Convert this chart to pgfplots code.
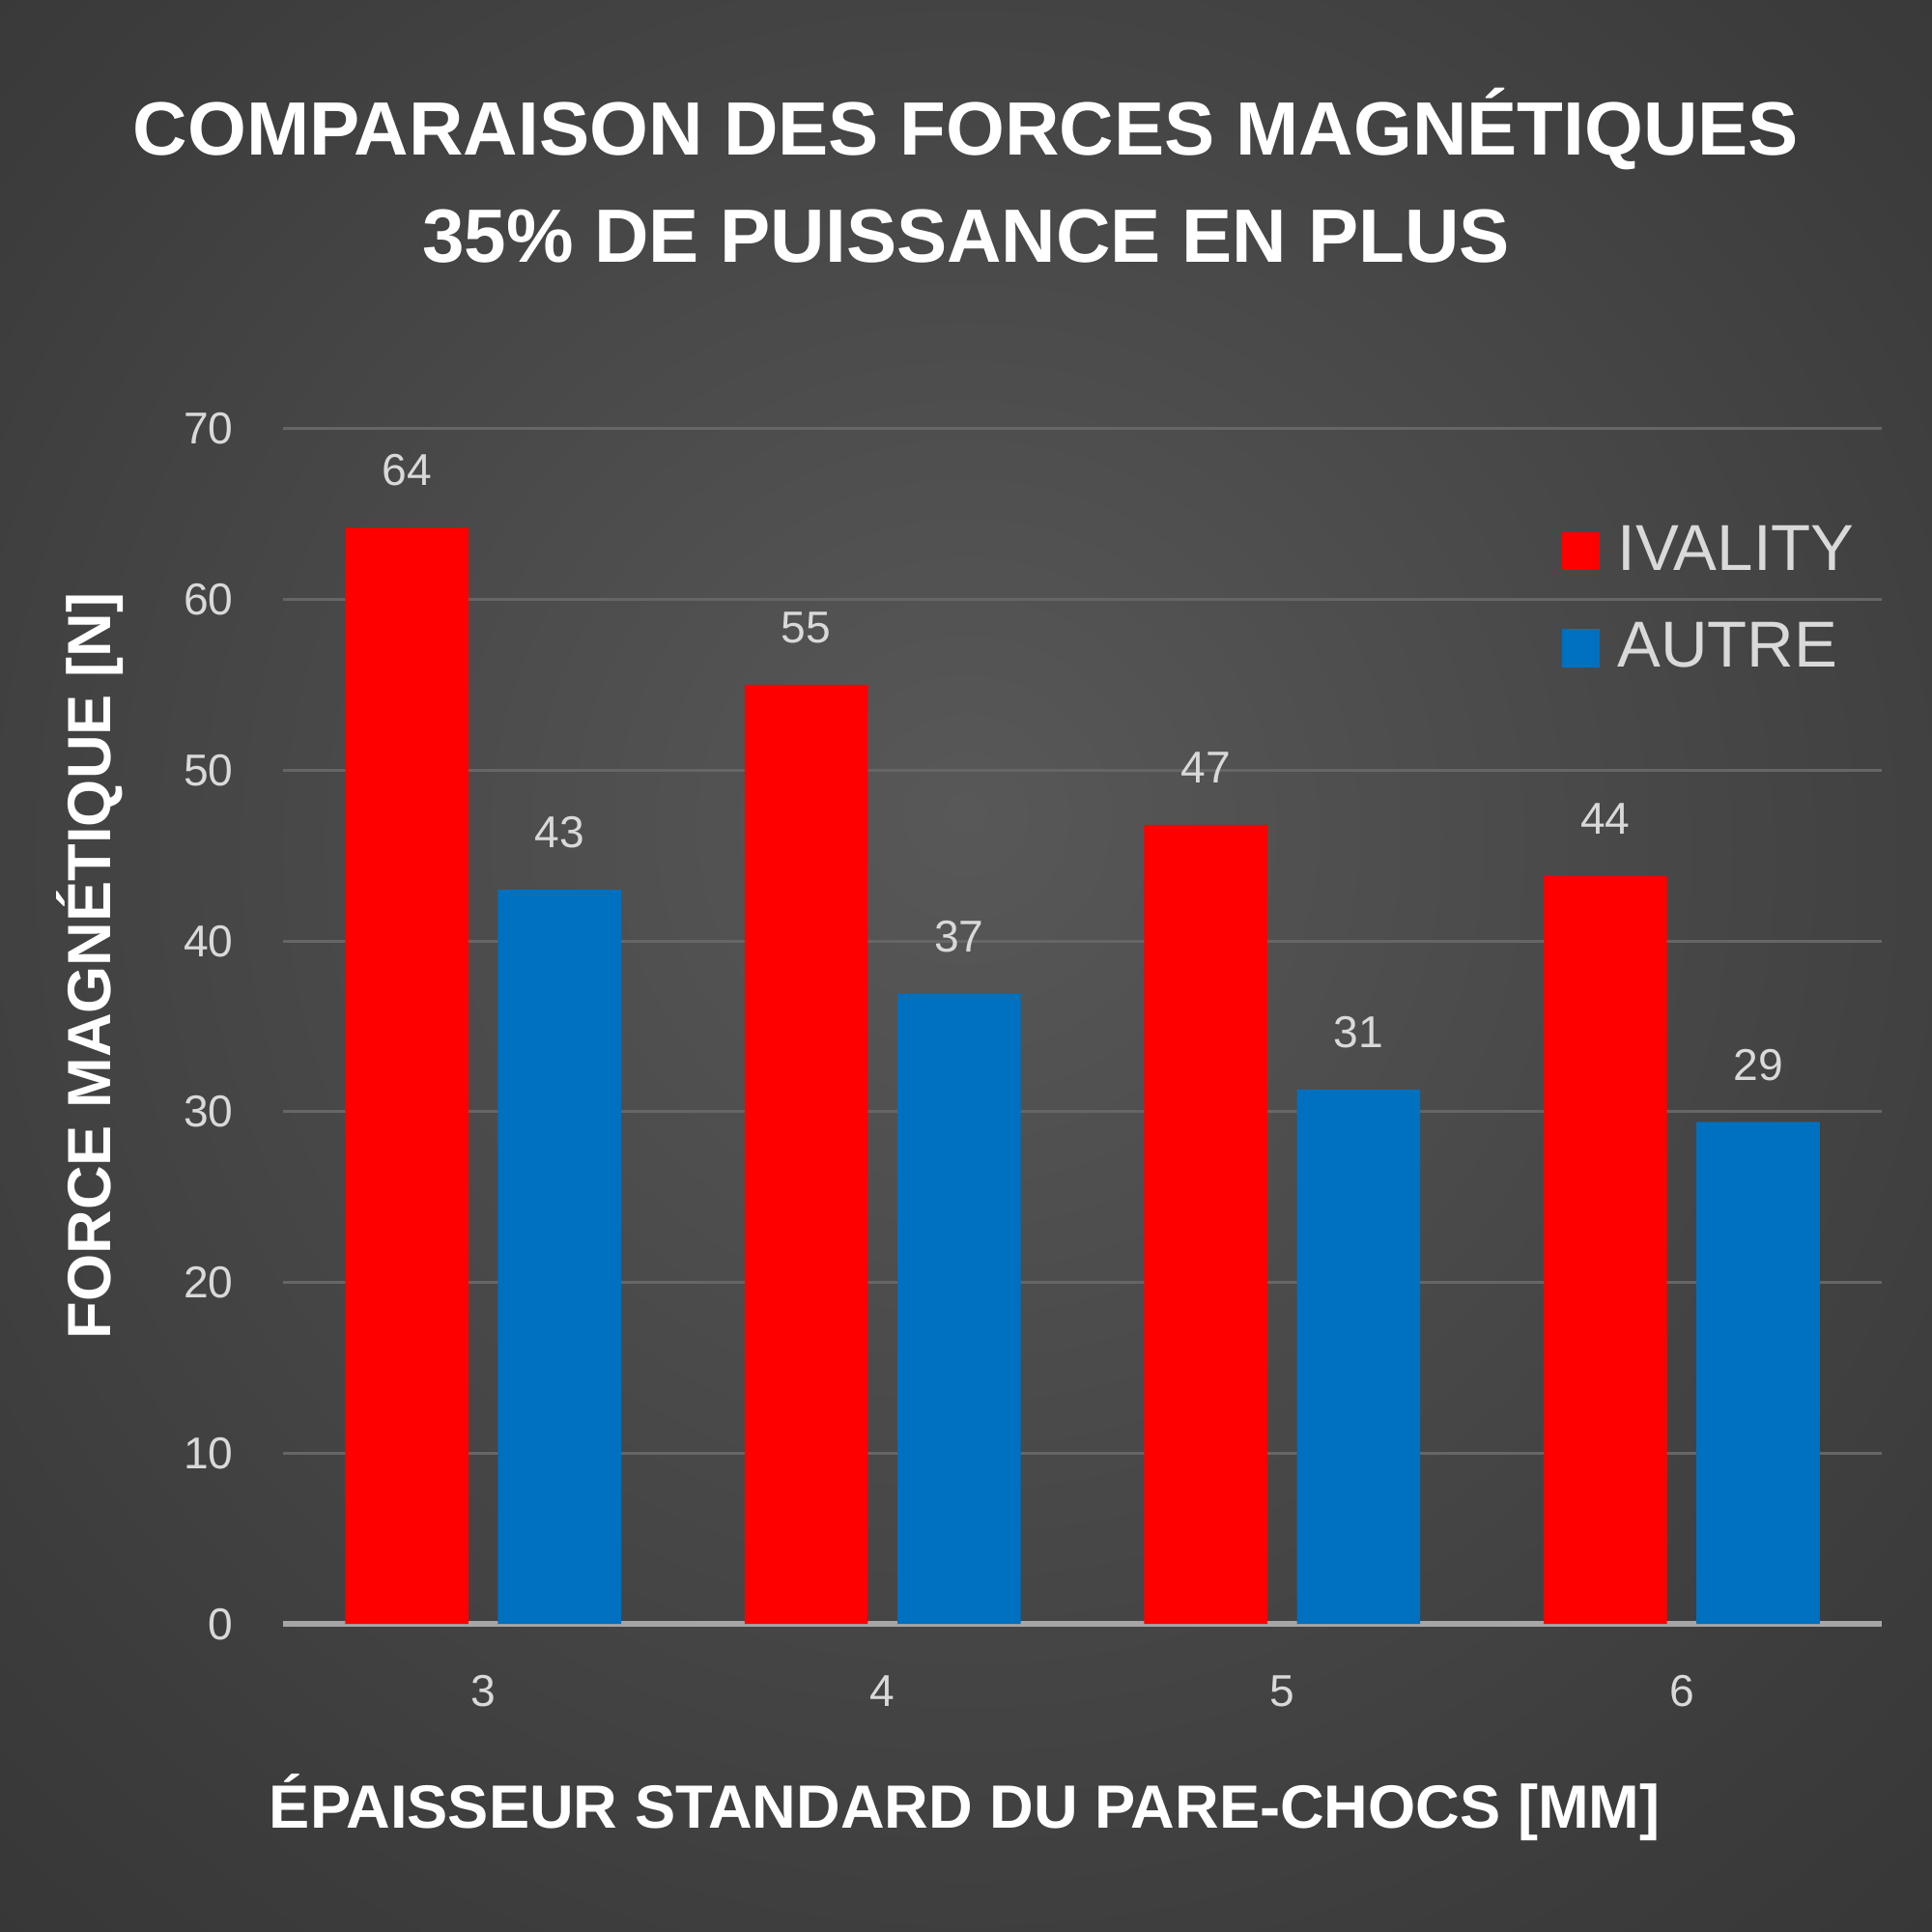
\documentclass[border=0pt]{standalone}
\usepackage{pgfplots}
\pgfplotsset{compat=1.18}
\usepackage{pgfplotstable}
\usepackage{fontspec}
\setmainfont{Liberation Sans}

\definecolor{ivred}{HTML}{FF0000}
\definecolor{autblue}{HTML}{0070C0}
\definecolor{ticktxt}{HTML}{D9D9D9}
\definecolor{gridc}{HTML}{666666}
\definecolor{axisc}{HTML}{A6A6A6}
\definecolor{bgin}{HTML}{585858}
\definecolor{bgmid}{HTML}{3C3C3C}
\definecolor{bgout}{HTML}{1E1E1E}

\pgfdeclareradialshading{bgshade}{\pgfpoint{0bp}{4bp}}{%
  color(0bp)=(bgin); color(30bp)=(bgmid); color(72bp)=(bgout)}

\pgfplotstableread{
x  y
3  64.2
4  55.0
5  46.8
6  43.8
}\ivality
\pgfplotstableread{
x  y
3  43.0
4  36.9
5  31.3
6  29.4
}\autre

\begin{document}
\begin{tikzpicture}
\shade[shading=bgshade] (0,0) rectangle (15.68,15.68);
\node[text=white, font=\fontsize{17.45}{20}\selectfont\bfseries] at (7.84,14.63)
  {COMPARAISON DES FORCES MAGNÉTIQUES};
\node[text=white, font=\fontsize{17.45}{20}\selectfont\bfseries] at (7.84,13.76)
  {35\% DE PUISSANCE EN PLUS};
\begin{axis}[
    at={(2.30cm,2.50cm)}, anchor=south west,
    scale only axis,
    width=12.97cm, height=9.70cm,
    ybar=0.24cm, bar width=1.0cm,
    xmin=2.5, xmax=6.5,
    ymin=0, ymax=70,
    xtick={3,4,5,6},
    ytick={0,10,...,70},
    major tick length=0pt,
    axis x line*=bottom, axis y line*=left,
    y axis line style={draw=none},
    x axis line style={color=axisc, line width=1.2pt, -},
    ymajorgrids,
    major grid style={color=gridc, line width=0.7pt},
    /pgf/number format/assume math mode=true,
    tick label style={text=ticktxt, font=\fontsize{10.3}{12}\selectfont, inner sep=0pt},
    yticklabel style={xshift=-0.40cm},
    xticklabel style={yshift=-0.41cm},
    nodes near coords,
    nodes near coords style={text=ticktxt, font=\fontsize{10.3}{12}\selectfont,
      anchor=south, inner sep=0pt, yshift=0.33cm,
      /pgf/number format/.cd, fixed, precision=0, assume math mode=true},
    xlabel={ÉPAISSEUR STANDARD DU PARE-CHOCS [MM]},
    ylabel={FORCE MAGNÉTIQUE [N]},
    xlabel style={at={(axis description cs:0.4264,-0.1536)}, anchor=center,
      text=white, font=\fontsize{14.1}{17}\selectfont\bfseries},
    ylabel style={at={(axis description cs:-0.121,0.5505)}, anchor=center, rotate=0,
      text=white, font=\fontsize{14.1}{17}\selectfont\bfseries},
    legend style={at={(axis description cs:0.7995,0.857)}, anchor=west,
      draw=none, fill=none, inner sep=0pt, row sep=0.37cm,
      text=ticktxt, font=\fontsize{15}{18}\selectfont,
      nodes={inner sep=0pt}},
    legend cell align=left,
    legend image code/.code={\fill (0cm,-0.155cm) rectangle (0.31cm,0.155cm);
      \path (0.31cm,0) -- (0.45cm,0);},
  ]
\addplot[fill=ivred, draw=none] table[x=x,y=y] {\ivality};
\addplot[fill=autblue, draw=none] table[x=x,y=y] {\autre};
\legend{IVALITY, AUTRE}
\end{axis}
\end{tikzpicture}
\end{document}
